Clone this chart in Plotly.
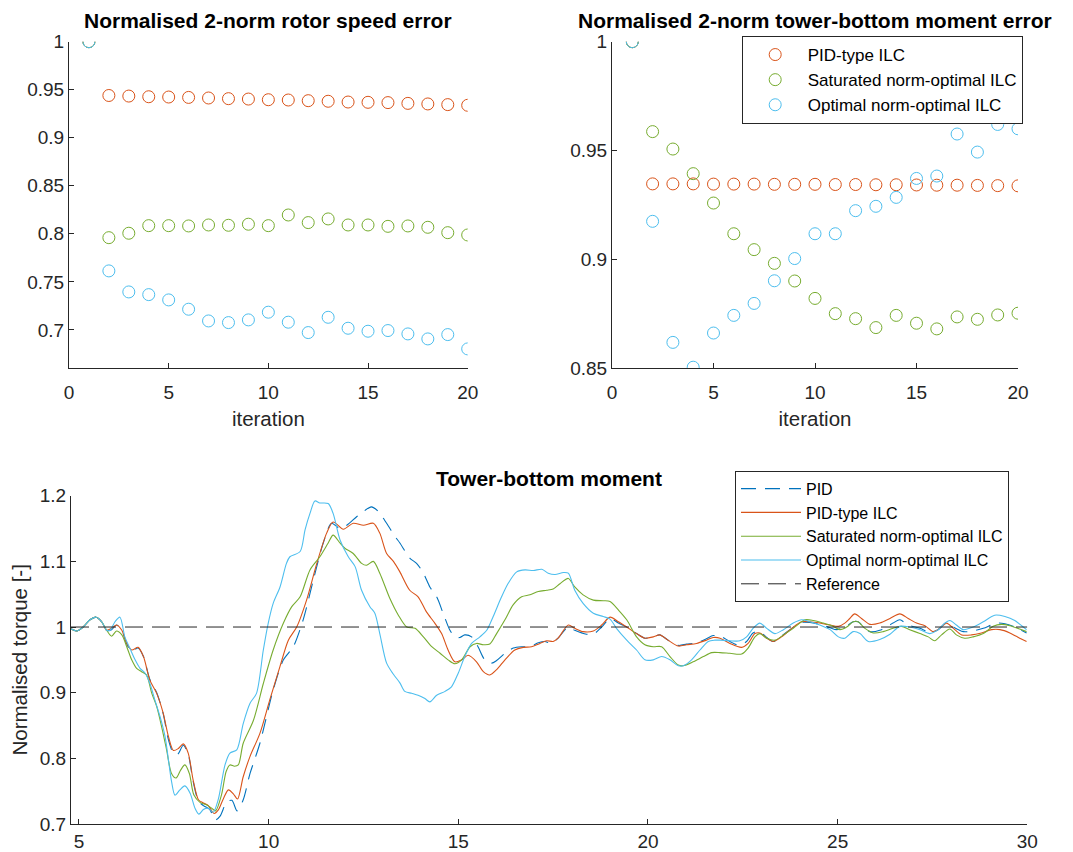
import plotly.graph_objects as go

# ---------------- data ----------------
iterations = list(range(1, 21))

speed_pid_ilc = [1.0, 0.944, 0.9434, 0.9427, 0.9424, 0.942, 0.9414, 0.9407, 0.9403, 0.9396,
                 0.9393, 0.9386, 0.938, 0.9372, 0.9369, 0.9366, 0.9358, 0.9352, 0.9345, 0.9338]
speed_sat_ilc = [1.0, 0.796, 0.8006, 0.8085, 0.8085, 0.8082, 0.8092, 0.8089, 0.81, 0.8085,
                 0.8196, 0.8117, 0.8155, 0.8092, 0.8092, 0.8078, 0.8082, 0.8068, 0.8012, 0.7988]
speed_opt_ilc = [1.0, 0.7614, 0.7395, 0.7367, 0.7312, 0.7215, 0.7093, 0.7076, 0.7104, 0.7184,
                 0.708, 0.6972, 0.7131, 0.7017, 0.6986, 0.6993, 0.6958, 0.6906, 0.6951, 0.6802]

moment_pid_ilc = [1.0, 0.9347, 0.9347, 0.9347, 0.9346, 0.9346, 0.9346, 0.9345, 0.9345, 0.9345,
                  0.9344, 0.9344, 0.9343, 0.9343, 0.9342, 0.9341, 0.9341, 0.934, 0.9339, 0.9338]
moment_sat_ilc = [1.0, 0.9587, 0.9507, 0.9394, 0.9259, 0.9118, 0.9045, 0.8982, 0.8901, 0.8821,
                  0.8751, 0.8728, 0.8687, 0.8743, 0.8707, 0.8681, 0.8736, 0.8725, 0.8745, 0.8753]
moment_opt_ilc = [1.0, 0.9175, 0.8619, 0.8505, 0.8662, 0.8743, 0.8798, 0.8902, 0.9004, 0.9118,
                  0.9118, 0.9224, 0.9244, 0.9285, 0.9372, 0.9383, 0.9576, 0.9493, 0.962, 0.96]

# time series (time [s], normalised torque)
t_pid = [4.76, 4.94, 5.11, 5.29, 5.45, 5.6, 5.73, 5.86, 5.99, 6.13, 6.26, 6.39, 6.56, 6.7, 6.87,
         7.05, 7.22, 7.36, 7.49, 7.6, 7.75, 7.88, 8.01, 8.15, 8.28, 8.45, 8.59, 8.72, 8.89, 9.03,
         9.17, 9.33, 9.51, 9.77, 10.12, 10.39, 10.65, 10.91, 11.18, 11.44, 11.66, 11.88, 12.06,
         12.32, 12.5, 12.71, 12.89, 13.11, 13.33, 13.46, 13.72, 13.9, 14.08, 14.25, 14.43, 14.6,
         14.78, 14.91, 15.04, 15.17, 15.35, 15.52, 15.7, 15.88, 16.01, 16.23, 16.45, 16.67, 16.89,
         17.11, 17.28, 17.46, 17.63, 17.9, 18.07, 18.38, 18.56, 18.78, 19.0, 19.22, 19.44, 19.7,
         19.92, 20.14, 20.31, 20.53, 20.8, 21.02, 21.28, 21.54, 21.72, 21.9, 22.16, 22.4, 22.6,
         22.77, 22.95, 23.13, 23.3, 23.52, 23.79, 24.05, 24.27, 24.53, 24.8, 24.97, 25.2, 25.41,
         25.54, 25.72, 25.85, 26.11, 26.46, 26.64, 26.86, 27.17, 27.43, 27.65, 27.87, 28.05,
         28.31, 28.57, 28.84, 29.19, 29.41, 29.67, 29.98]
v_pid = [0.998, 0.994, 1.0, 1.011, 1.015, 1.008, 0.995, 0.996, 1.003, 0.995, 0.974, 0.963, 0.968,
         0.955, 0.92, 0.9, 0.868, 0.828, 0.808, 0.806, 0.82, 0.806, 0.765, 0.735, 0.728, 0.722,
         0.706, 0.712, 0.733, 0.736, 0.72, 0.737, 0.777, 0.823, 0.904, 0.95, 0.97, 1.011, 1.072,
         1.128, 1.158, 1.15, 1.155, 1.168, 1.176, 1.183, 1.176, 1.158, 1.138, 1.128, 1.105, 1.097,
         1.082, 1.061, 1.046, 1.021, 0.995, 0.985, 0.984, 0.988, 0.985, 0.97, 0.95, 0.945, 0.949,
         0.96, 0.968, 0.97, 0.97, 0.976, 0.978, 0.975, 0.983, 1.0, 0.995, 0.989, 0.989, 1.0, 1.013,
         1.006, 1.0, 0.99, 0.983, 0.985, 0.988, 0.98, 0.972, 0.974, 0.976, 0.982, 0.987, 0.986,
         0.978, 0.972, 0.978, 0.991, 0.993, 0.984, 0.978, 0.986, 0.998, 1.007, 1.007, 1.004,
         0.999, 0.996, 1.0, 1.008, 1.008, 0.998, 0.993, 0.995, 1.006, 1.011, 1.003, 0.998, 0.992,
         0.996, 1.007, 1.0, 0.993, 0.994, 0.998, 1.006, 1.005, 1.0, 0.991]

t_pid_ilc = [4.76, 4.94, 5.11, 5.29, 5.45, 5.6, 5.73, 5.86, 5.99, 6.13, 6.26, 6.39, 6.56, 6.7,
             6.87, 7.05, 7.22, 7.36, 7.49, 7.62, 7.75, 7.88, 8.01, 8.15, 8.28, 8.41, 8.56, 8.67,
             8.81, 8.94, 9.07, 9.18, 9.33, 9.51, 9.77, 10.03, 10.3, 10.52, 10.74, 11.0, 11.27,
             11.53, 11.7, 11.97, 12.23, 12.5, 12.76, 12.93, 13.11, 13.29, 13.46, 13.72, 13.94,
             14.16, 14.38, 14.56, 14.73, 14.91, 15.09, 15.26, 15.48, 15.66, 15.83, 16.01, 16.23,
             16.49, 16.71, 16.93, 17.15, 17.33, 17.5, 17.63, 17.9, 18.07, 18.29, 18.56, 18.78,
             19.0, 19.22, 19.44, 19.7, 19.92, 20.14, 20.31, 20.53, 20.8, 21.02, 21.28, 21.54,
             21.72, 21.9, 22.16, 22.47, 22.64, 22.82, 22.95, 23.13, 23.3, 23.52, 23.79, 24.05,
             24.27, 24.53, 24.8, 25.02, 25.19, 25.32, 25.45, 25.63, 25.85, 26.11, 26.38, 26.64,
             26.86, 27.08, 27.3, 27.52, 27.69, 27.87, 28.05, 28.27, 28.53, 28.79, 29.06, 29.28,
             29.54, 29.8, 29.98]
v_pid_ilc = [0.998, 0.994, 1.0, 1.011, 1.015, 1.008, 0.995, 0.998, 1.003, 0.995, 0.975, 0.965,
             0.969, 0.955, 0.919, 0.899, 0.869, 0.833, 0.812, 0.815, 0.822, 0.808, 0.767, 0.737,
             0.732, 0.728, 0.716, 0.721, 0.739, 0.752, 0.746, 0.738, 0.772, 0.803, 0.838, 0.889,
             0.94, 0.98, 1.0, 1.041, 1.097, 1.143, 1.16, 1.149, 1.158, 1.155, 1.158, 1.143, 1.112,
             1.1, 1.084, 1.056, 1.046, 1.023, 1.006, 0.99, 0.965, 0.947, 0.95, 0.957, 0.947, 0.932,
             0.927, 0.935, 0.95, 0.965, 0.969, 0.97, 0.975, 0.979, 0.978, 0.983, 1.003, 0.998,
             0.993, 0.994, 1.003, 1.015, 1.008, 1.0, 0.99, 0.983, 0.985, 0.988, 0.98, 0.971, 0.973,
             0.975, 0.98, 0.984, 0.983, 0.975, 0.969, 0.975, 0.99, 0.991, 0.983, 0.978, 0.985,
             0.998, 1.008, 1.008, 1.006, 1.003, 1.001, 1.006, 1.013, 1.02, 1.013, 1.004, 1.006,
             1.013, 1.02, 1.013, 1.006, 1.002, 0.993, 0.998, 1.006, 0.998, 0.988, 0.988, 0.991,
             0.996, 0.996, 0.991, 0.983, 0.978]

t_sat = [4.76, 4.94, 5.11, 5.29, 5.45, 5.6, 5.73, 5.86, 5.99, 6.13, 6.26, 6.39, 6.52, 6.65, 6.78,
         6.92, 7.05, 7.18, 7.31, 7.44, 7.56, 7.68, 7.79, 7.91, 8.03, 8.19, 8.37, 8.5, 8.6, 8.76,
         8.88, 8.98, 9.1, 9.2, 9.33, 9.6, 9.86, 10.12, 10.39, 10.61, 10.83, 11.09, 11.35, 11.57,
         11.7, 11.88, 12.01, 12.23, 12.45, 12.58, 12.76, 12.93, 13.2, 13.42, 13.64, 13.86, 14.08,
         14.3, 14.52, 14.73, 14.91, 15.09, 15.31, 15.48, 15.66, 15.83, 16.01, 16.23, 16.45, 16.67,
         16.89, 17.11, 17.33, 17.5, 17.68, 17.9, 18.07, 18.29, 18.56, 18.82, 19.0, 19.22, 19.44,
         19.7, 19.92, 20.14, 20.36, 20.58, 20.8, 20.93, 21.19, 21.46, 21.68, 21.9, 22.16, 22.47,
         22.64, 22.82, 22.95, 23.13, 23.35, 23.57, 23.83, 24.14, 24.36, 24.62, 24.88, 25.06,
         25.24, 25.41, 25.54, 25.72, 25.94, 26.2, 26.46, 26.68, 26.9, 27.17, 27.39, 27.56, 27.74,
         27.96, 28.13, 28.35, 28.57, 28.84, 29.1, 29.32, 29.54, 29.8, 29.98]
v_sat = [0.998, 0.994, 1.0, 1.011, 1.015, 1.008, 0.995, 0.986, 0.994, 0.988, 0.97, 0.95, 0.937,
         0.932, 0.927, 0.899, 0.879, 0.848, 0.813, 0.777, 0.77, 0.782, 0.79, 0.777, 0.744, 0.733,
         0.729, 0.724, 0.72, 0.745, 0.78, 0.79, 0.788, 0.79, 0.823, 0.858, 0.914, 0.965, 1.006,
         1.031, 1.046, 1.087, 1.107, 1.128, 1.14, 1.128, 1.12, 1.112, 1.097, 1.094, 1.1, 1.082,
         1.043, 1.018, 1.0, 0.998, 0.985, 0.97, 0.96, 0.95, 0.944, 0.95, 0.97, 0.975, 0.973,
         0.974, 0.99, 1.011, 1.034, 1.046, 1.049, 1.054, 1.056, 1.058, 1.066, 1.074, 1.061, 1.049,
         1.041, 1.04, 1.039, 1.026, 1.011, 0.985, 0.973, 0.97, 0.97, 0.955, 0.942, 0.941, 0.947,
         0.955, 0.961, 0.961, 0.96, 0.959, 0.968, 0.985, 0.99, 0.983, 0.98, 0.988, 0.998, 1.011,
         1.01, 1.006, 1.001, 0.996, 1.0, 1.008, 1.008, 0.998, 0.991, 0.993, 0.998, 1.001, 0.996,
         0.99, 0.985, 0.979, 0.988, 0.997, 0.988, 0.983, 0.985, 0.99, 1.001, 1.004, 1.002, 0.997,
         0.993]

t_opt = [4.76, 4.94, 5.11, 5.29, 5.45, 5.6, 5.73, 5.82, 5.95, 6.08, 6.21, 6.34, 6.48, 6.61, 6.74,
         6.87, 7.0, 7.14, 7.27, 7.36, 7.44, 7.53, 7.66, 7.79, 7.93, 8.06, 8.16, 8.28, 8.41, 8.54,
         8.67, 8.85, 8.98, 9.16, 9.33, 9.51, 9.68, 9.86, 9.99, 10.12, 10.3, 10.47, 10.56, 10.83,
         10.96, 11.09, 11.22, 11.35, 11.57, 11.7, 11.88, 12.1, 12.28, 12.45, 12.67, 12.8, 12.93,
         13.11, 13.29, 13.46, 13.59, 13.77, 13.94, 14.12, 14.25, 14.43, 14.65, 14.82, 15.0, 15.17,
         15.35, 15.57, 15.75, 15.92, 16.14, 16.32, 16.54, 16.76, 16.98, 17.2, 17.37, 17.55, 17.77,
         17.9, 18.07, 18.29, 18.56, 18.82, 19.0, 19.17, 19.44, 19.7, 19.92, 20.14, 20.36, 20.58,
         20.8, 20.93, 21.15, 21.37, 21.59, 21.76, 21.9, 22.16, 22.42, 22.6, 22.77, 22.95, 23.13,
         23.35, 23.57, 23.83, 24.05, 24.27, 24.53, 24.8, 25.02, 25.19, 25.41, 25.59, 25.81, 26.11,
         26.38, 26.64, 26.9, 27.17, 27.43, 27.65, 27.83, 27.96, 28.13, 28.31, 28.57, 28.84, 29.14,
         29.41, 29.67, 29.85, 29.98]
v_opt = [0.998, 0.994, 1.0, 1.011, 1.015, 1.008, 0.995, 0.995, 1.008, 1.015, 0.985, 0.968, 0.95,
         0.937, 0.93, 0.914, 0.889, 0.863, 0.833, 0.797, 0.765, 0.744, 0.752, 0.758, 0.747, 0.724,
         0.715, 0.722, 0.724, 0.718, 0.737, 0.79, 0.808, 0.813, 0.853, 0.884, 0.899, 0.965, 1.006,
         1.036, 1.061, 1.097, 1.107, 1.115, 1.148, 1.173, 1.192, 1.189, 1.188, 1.173, 1.133, 1.107,
         1.092, 1.056, 1.031, 1.021, 0.99, 0.945, 0.928, 0.915, 0.902, 0.899, 0.896, 0.891, 0.886,
         0.896, 0.902, 0.909, 0.93, 0.955, 0.975, 0.985, 0.995, 1.016, 1.046, 1.067, 1.084, 1.087,
         1.086, 1.088, 1.082, 1.08, 1.083, 1.082, 1.056, 1.036, 1.021, 1.016, 1.012, 0.998, 0.98,
         0.965, 0.95, 0.95, 0.955, 0.95, 0.941, 0.941, 0.95, 0.965, 0.978, 0.98, 0.98, 0.979,
         0.979, 0.985, 0.998, 1.006, 0.998, 0.99, 0.996, 1.006, 1.011, 1.008, 1.003, 0.996, 0.985,
         0.983, 0.993, 0.99, 0.978, 0.981, 0.989, 1.001, 1.0, 0.996, 0.99, 0.996, 1.006, 1.01,
         1.003, 0.996, 1.0, 1.008, 1.018, 1.016, 1.01, 1.002, 0.996]

ref_t = [4.79, 30.0]
ref_v = [1.0, 1.0]

iter_ticks = [0, 5, 10, 15, 20]
speed_yticks = [0.7, 0.75, 0.8, 0.85, 0.9, 0.95, 1.0]
speed_ylabels = ["0.7", "0.75", "0.8", "0.85", "0.9", "0.95", "1"]
moment_yticks = [0.85, 0.9, 0.95, 1.0]
moment_ylabels = ["0.85", "0.9", "0.95", "1"]
time_ticks = [5, 10, 15, 20, 25, 30]
torque_yticks = [0.7, 0.8, 0.9, 1.0, 1.1, 1.2]
torque_ylabels = ["0.7", "0.8", "0.9", "1", "1.1", "1.2"]

names = ["PID-type ILC", "Saturated norm-optimal ILC", "Optimal norm-optimal ILC"]
ORANGE, GREEN, CYAN, BLUE = "#D95319", "#77AC30", "#4DBEEE", "#0072BD"
AX = "#262626"
FONT = "Liberation Sans, Arial, sans-serif"

W, H = 1073, 852


def dx(a, b):
    return [a / W, b / W]


def dy(top, bottom):
    return [1 - bottom / H, 1 - top / H]


fig = go.Figure()

# ---- top-left scatter
for vals, col in zip([speed_pid_ilc, speed_sat_ilc, speed_opt_ilc], [ORANGE, GREEN, CYAN]):
    fig.add_trace(go.Scatter(x=iterations, y=vals, mode="markers", showlegend=False,
                             marker=dict(symbol="circle-open", size=12, color=col,
                                         line=dict(width=1, color=col)),
                             xaxis="x", yaxis="y"))
# ---- top-right scatter
for vals, col, nm in zip([moment_pid_ilc, moment_sat_ilc, moment_opt_ilc],
                         [ORANGE, GREEN, CYAN], names):
    fig.add_trace(go.Scatter(x=iterations, y=vals, mode="markers", name=nm, legend="legend",
                             marker=dict(symbol="circle-open", size=12, color=col,
                                         line=dict(width=1, color=col)),
                             xaxis="x2", yaxis="y2"))

# ---- bottom lines
fig.add_trace(go.Scatter(x=t_pid, y=v_pid, mode="lines", name="PID", legend="legend2",
                         line=dict(color=BLUE, width=1.1, dash="15px,9px", shape="spline",
                                   smoothing=0.8), xaxis="x3", yaxis="y3"))
fig.add_trace(go.Scatter(x=t_pid_ilc, y=v_pid_ilc, mode="lines", name="PID-type ILC",
                         legend="legend2",
                         line=dict(color=ORANGE, width=1.1, shape="spline", smoothing=0.8),
                         xaxis="x3", yaxis="y3"))
fig.add_trace(go.Scatter(x=t_sat, y=v_sat, mode="lines", name="Saturated norm-optimal ILC",
                         legend="legend2",
                         line=dict(color=GREEN, width=1.1, shape="spline", smoothing=0.8),
                         xaxis="x3", yaxis="y3"))
fig.add_trace(go.Scatter(x=t_opt, y=v_opt, mode="lines", name="Optimal norm-optimal ILC",
                         legend="legend2",
                         line=dict(color=CYAN, width=1.1, shape="spline", smoothing=0.8),
                         xaxis="x3", yaxis="y3"))
fig.add_trace(go.Scatter(x=ref_t, y=ref_v, mode="lines", name="Reference", legend="legend2",
                         line=dict(color=AX, width=1, dash="18px,9px"),
                         xaxis="x3", yaxis="y3"))

axis_common = dict(showline=True, linecolor=AX, linewidth=1, ticks="inside", ticklen=5,
                   tickcolor=AX, tickwidth=1, showgrid=False, zeroline=False,
                   automargin=False,
                   tickfont=dict(family=FONT, size=19, color=AX),
                   title_font=dict(family=FONT, size=20.5, color=AX))

fig.update_layout(
    width=W, height=H, margin=dict(l=0, r=0, t=0, b=0, autoexpand=False),
    paper_bgcolor="white", plot_bgcolor="white",
    font=dict(family=FONT, color=AX),
    xaxis=dict(domain=dx(69, 467.7), range=[0, 20], tickvals=iter_ticks, anchor="y",
               ticklabelstandoff=7, title=dict(text="iteration", standoff=9), **axis_common),
    yaxis=dict(domain=dy(41.7, 368.3), range=[0.66, 1.0], tickvals=speed_yticks,
               ticktext=speed_ylabels, anchor="x", **axis_common),
    xaxis2=dict(domain=dx(612, 1018), range=[0, 20], tickvals=iter_ticks, anchor="y2",
                ticklabelstandoff=7, title=dict(text="iteration", standoff=9), **axis_common),
    yaxis2=dict(domain=dy(41.7, 368.3), range=[0.85, 1.0], tickvals=moment_yticks,
                ticktext=moment_ylabels, anchor="x2", **axis_common),
    xaxis3=dict(domain=dx(71, 1027.3), range=[4.79, 30], tickvals=time_ticks, anchor="y3",
                ticklabelstandoff=0, **axis_common),
    yaxis3=dict(domain=dy(495.7, 824), range=[0.7, 1.2], tickvals=torque_yticks,
                ticktext=torque_ylabels, anchor="x3",
                title=dict(text="Normalised torque [-]", standoff=6), **axis_common),
    legend=dict(x=741.7 / W, y=1 - 36 / H, xanchor="left", yanchor="top",
                bordercolor=AX, borderwidth=1, bgcolor="white",
                font=dict(family=FONT, size=17, color="#000000"), itemwidth=55),
    legend2=dict(x=735 / W, y=1 - 470.7 / H, xanchor="left", yanchor="top",
                 bordercolor=AX, borderwidth=1, bgcolor="white",
                 font=dict(family=FONT, size=16, color="#000000"), itemwidth=60),
)

titles = [
    ("Normalised 2-norm rotor speed error", 268.4, 21),
    ("Normalised 2-norm tower-bottom moment error", 815, 20),
    ("Tower-bottom moment", 549, 478),
]
for txt, px, py in titles:
    fig.add_annotation(text="<b>" + txt + "</b>", x=px / W, y=1 - py / H, xref="paper",
                       yref="paper", xanchor="center", yanchor="middle", showarrow=False,
                       font=dict(family=FONT, size=21, color="#000000"))

fig.write_html("out.html")
